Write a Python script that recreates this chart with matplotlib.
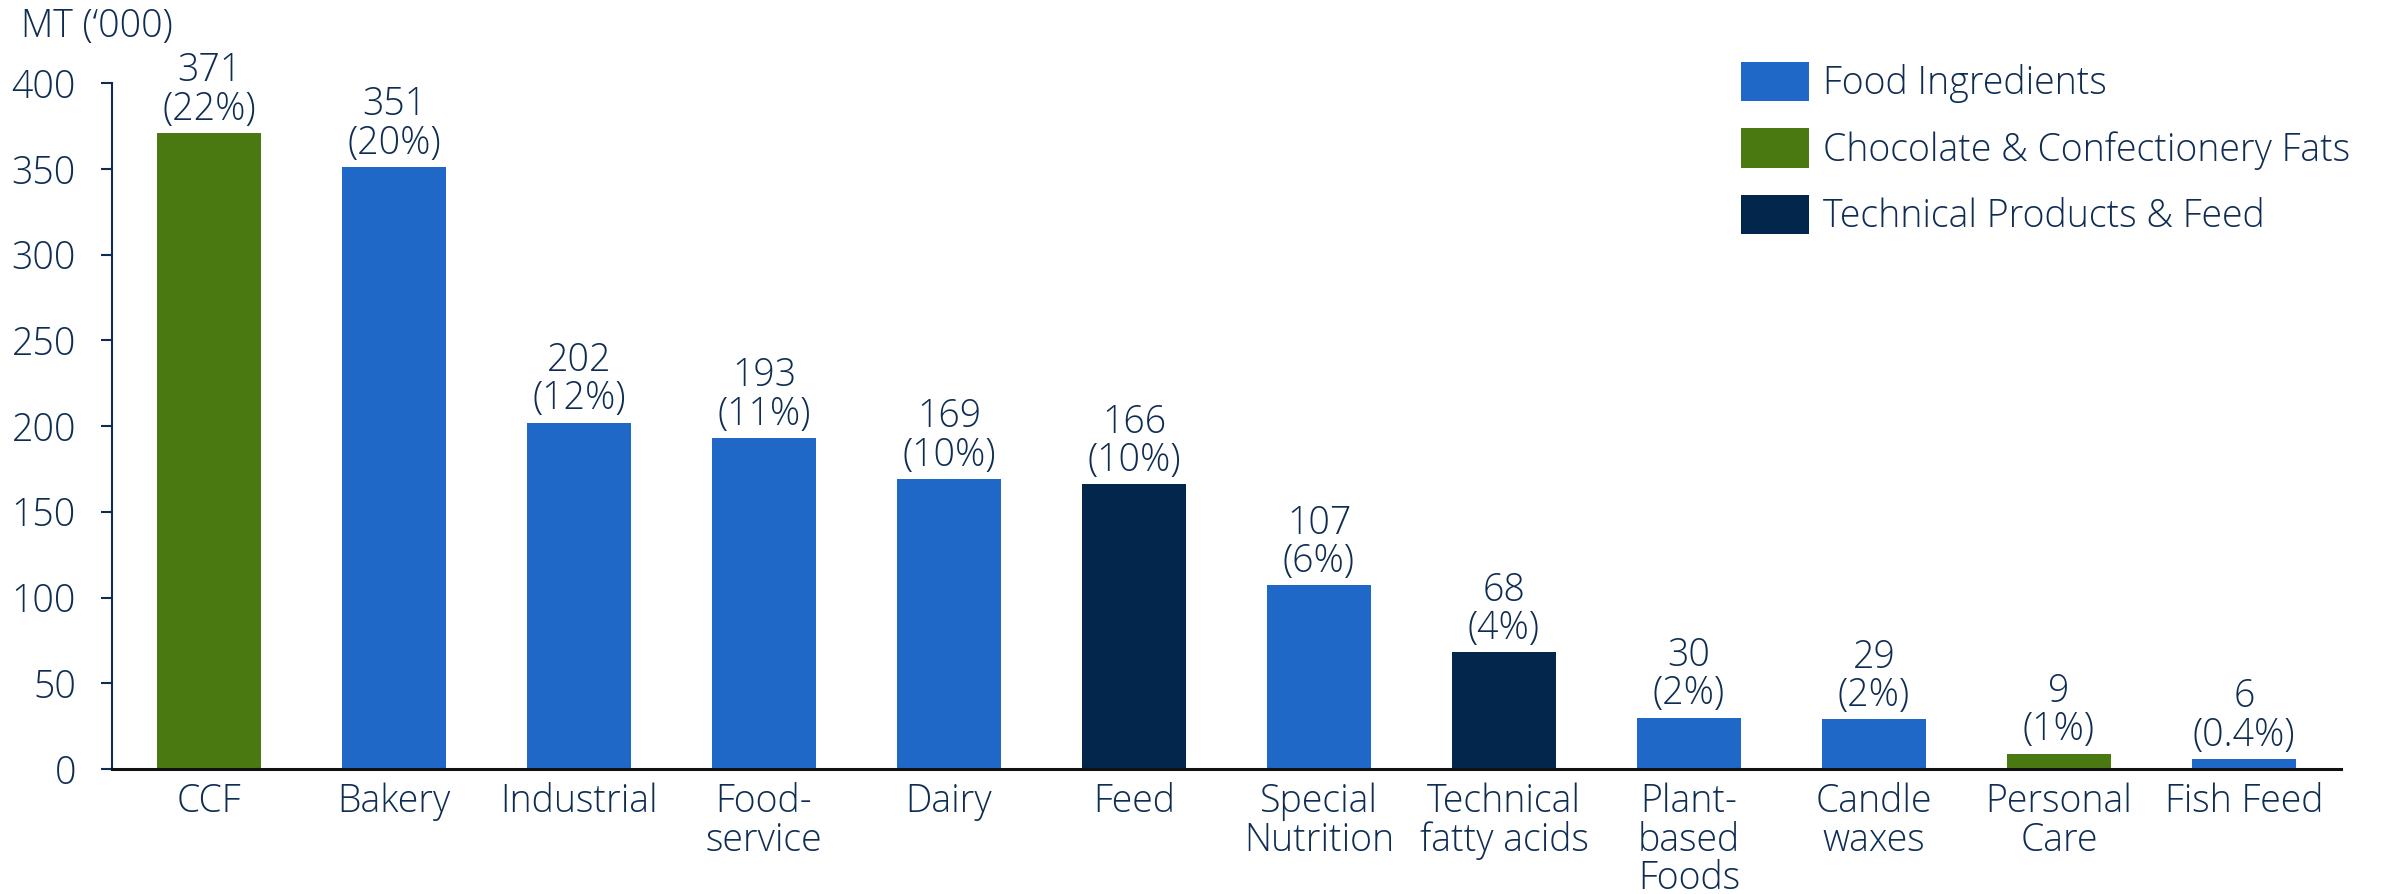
import matplotlib
matplotlib.use("Agg")
import matplotlib.pyplot as plt
from matplotlib.patches import Patch
from matplotlib import font_manager

categories = ["CCF", "Bakery", "Industrial", "Food-\nservice", "Dairy", "Feed",
              "Special\nNutrition", "Technical\nfatty acids", "Plant-\nbased\nFoods",
              "Candle\nwaxes", "Personal\nCare", "Fish Feed"]
values = [371, 351, 202, 193, 169, 166, 107, 68, 30, 29, 9, 6]
shares = ["22%", "20%", "12%", "11%", "10%", "10%", "6%", "4%", "2%", "2%", "1%", "0.4%"]
segments = ["CCF", "FI", "FI", "FI", "FI", "TPF", "FI", "TPF", "FI", "FI", "CCF", "FI"]
segment_names = {"FI": "Food Ingredients",
                 "CCF": "Chocolate & Confectionery Fats",
                 "TPF": "Technical Products & Feed"}
segment_order = ["FI", "CCF", "TPF"]
yticks = [0, 50, 100, 150, 200, 250, 300, 350, 400]

colors = {"FI": "#2068C8", "CCF": "#4A7912", "TPF": "#02264C"}
TXT = "#0F2D52"

fam = "Open Sans"
names = {f.name for f in font_manager.fontManager.ttflist}
if fam not in names:
    fam = "DejaVu Sans"
plt.rcParams["font.family"] = [fam, "DejaVu Sans"]
WT = "light"
FS = 27

fig = plt.figure(figsize=(23.84, 8.94), dpi=100)
W, H = 2384, 894
ax_left, ax_right, ax_bot, ax_top = 112, 2341, 769, 83
ax = fig.add_axes([ax_left / W, 1 - ax_bot / H, (ax_right - ax_left) / W, (ax_bot - ax_top) / H])

x = list(range(len(categories)))
ax.bar(x, values, width=0.56, color=[colors[s] for s in segments], zorder=2)
ax.set_xlim(-0.525, len(categories) - 0.475)
ax.set_ylim(0, 400)

for xi, v, s in zip(x, values, shares):
    ax.annotate(f"{v}\n({s})", (xi, v), xytext=(0, 3), textcoords="offset points",
                ha="center", va="bottom", fontsize=FS, color=TXT, linespacing=1.0,
                fontweight=WT)

ax.set_yticks(yticks)
ax.set_yticklabels([str(t) for t in yticks], fontsize=FS, color=TXT, fontweight=WT)
ax.set_xticks(x)
ax.set_xticklabels(categories, fontsize=FS, color=TXT, fontweight=WT, linespacing=0.99)
ax.tick_params(axis="y", length=8, width=1.5, color=TXT, pad=18)
ax.tick_params(axis="x", length=0, pad=10)
for side in ["top", "right"]:
    ax.spines[side].set_visible(False)
ax.spines["left"].set_color(TXT)
ax.spines["left"].set_linewidth(1.5)
ax.spines["bottom"].set_color("#111111")
ax.spines["bottom"].set_linewidth(2.2)
ax.spines["bottom"].set_zorder(3)

fig.text(21 / W, 1 - 37 / H, "MT (\u2018000)", fontsize=FS, color=TXT, ha="left",
         va="baseline", fontweight=WT)

handles = [Patch(facecolor=colors[k], edgecolor="none", label=segment_names[k]) for k in segment_order]
leg = fig.legend(handles=handles, loc="upper left", bbox_to_anchor=(1741 / W, 1 - 62 / H),
                 frameon=False, fontsize=FS, handlelength=1.81, handleheight=1.23,
                 handletextpad=0.37, labelspacing=0.67, borderpad=0, borderaxespad=0)
for t in leg.get_texts():
    t.set_color(TXT)
    t.set_fontweight(WT)

fig.savefig("out.png", dpi=100)
